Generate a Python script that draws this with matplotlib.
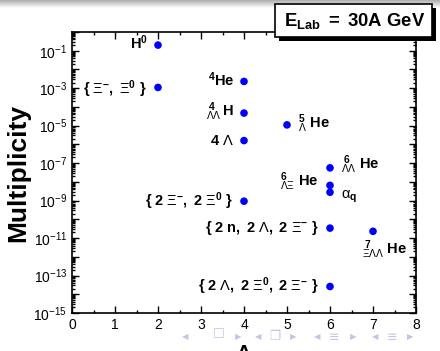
import numpy as np
import matplotlib
matplotlib.use("Agg")
import matplotlib.pyplot as plt
from matplotlib.patches import Rectangle
from matplotlib.ticker import LogLocator, FuncFormatter, MultipleLocator

plt.rcParams['font.family'] = ['Liberation Sans', 'DejaVu Sans']
plt.rcParams['mathtext.fontset'] = 'custom'
plt.rcParams['mathtext.rm'] = 'Liberation Sans:bold'
plt.rcParams['mathtext.bf'] = 'Liberation Sans:bold'
plt.rcParams['mathtext.sf'] = 'Liberation Sans'
plt.rcParams['mathtext.it'] = 'Liberation Sans:italic'

# data: mass number A vs multiplicity
A_vals = [2, 2, 4, 4, 4, 5, 6, 6, 6, 4, 6, 7, 6]
mult = [2.0e-1, 1.1e-3, 2.3e-3, 4.7e-5, 1.6e-6, 1.1e-5, 5.6e-8, 6.5e-9, 2.8e-9,
        9.3e-10, 3.4e-11, 2.3e-11, 2.6e-14]
labels = [r'$\mathrm{H}^{0}$',
          r'$\{\ \mathsf{Ξ}^{-},\ \mathsf{Ξ}^{0}\ \}$',
          r'$^{4}\mathrm{He}$',
          r'${}^{\ 4}_{\mathsf{ΛΛ}}\,\mathrm{H}$',
          r'$4\ \mathsf{Λ}$',
          r'${}^{5}_{\mathsf{Λ}}\ \mathrm{He}$',
          r'${}^{\ 6}_{\mathsf{ΛΛ}}\ \mathrm{He}$',
          r'${}^{6}_{\mathsf{ΛΞ}}\ \mathrm{He}$',
          r'$\mathsf{α}_{\mathrm{q}}$',
          r'$\{\ 2\ \mathsf{Ξ}^{-},\ 2\ \mathsf{Ξ}^{0}\ \}$',
          r'$\{\ 2\ \mathrm{n},\ 2\ \mathsf{Λ},\ 2\ \mathsf{Ξ}^{-}\ \}$',
          r'${}^{\ 7}_{\mathsf{ΞΛΛ}}\ \mathrm{He}$',
          r'$\{\ 2\ \mathsf{Λ},\ 2\ \mathsf{Ξ}^{0},\ 2\ \mathsf{Ξ}^{-}\ \}$']
# label placement (offset in points, alignment)
offsets = [(-7, 2), (-8, -1), (-7, 1), (-7, 1), (-7, 0), (8, 1), (8, 2), (-8, 3), (8, -3),
           (-8, 0), (-8, 0), (-8, -13), (-8, 0)]
has = ['right', 'right', 'right', 'right', 'right', 'left', 'left', 'right', 'left',
       'right', 'right', 'left', 'right']

fig = plt.figure(figsize=(4.4, 3.51), dpi=100)

# top gradient bar (slide frame)
gax = fig.add_axes([0, 1 - 8 / 351, 1, 8 / 351])
grad = np.linspace(0.68, 1.0, 50).reshape(-1, 1)
gax.imshow(np.dstack([grad, grad, grad]), aspect='auto', extent=[0, 1, 0, 1])
gax.axis('off')

ax = fig.add_axes([72 / 440, 1 - 313 / 351, 344 / 440, 281 / 351])
ax.set_yscale('log')
ax.scatter(A_vals, mult, s=30, color='#0000ff', zorder=3, edgecolors='none')
for x, y, lab, off, ha in zip(A_vals, mult, labels, offsets, has):
    ax.annotate(lab, (x, y), xytext=off, textcoords='offset points', ha=ha, va='center',
                fontsize=10.5, color='black')

ax.set_xlim(0, 8)
ax.set_ylim(1e-15, 1e0)
ax.xaxis.set_major_locator(MultipleLocator(1))
ax.xaxis.set_minor_locator(MultipleLocator(0.5))
ax.yaxis.set_major_locator(LogLocator(base=10, numticks=30))
ax.yaxis.set_minor_locator(LogLocator(base=10, subs=np.arange(2, 10), numticks=30))

def yfmt(v, pos):
    e = int(round(np.log10(v)))
    if e % 2 == 0:
        return ''
    return r'$\mathdefault{10^{%d}}$' % e

ax.yaxis.set_major_formatter(FuncFormatter(yfmt))
ax.tick_params(which='both', direction='in', top=True, right=True, labelsize=10, width=1)
ax.tick_params(which='major', length=5)
ax.tick_params(which='minor', length=2.5)
for sp in ax.spines.values():
    sp.set_linewidth(1.2)

ax.set_ylabel('Multiplicity', fontsize=19, fontweight='bold', labelpad=2)
ax.text(0.5, -0.115, 'A', transform=ax.transAxes, ha='center', va='top',
        fontsize=14, fontweight='bold')

# title box with shadow
fig.patches.append(Rectangle((279 / 440, 1 - 41 / 351), 157 / 440, 33 / 351,
                             transform=fig.transFigure, facecolor='black', edgecolor='none',
                             zorder=5))
fig.patches.append(Rectangle((275 / 440, 1 - 37 / 351), 157 / 440, 33 / 351,
                             transform=fig.transFigure, facecolor='white', edgecolor='black',
                             linewidth=1.2, zorder=6))
fig.text(355 / 440, 1 - 21 / 351, r'$\mathrm{E}_{\mathrm{Lab}}\ =\ \mathrm{30A\ GeV}$',
         ha='center', va='center', fontsize=13.3, zorder=7)

# beamer navigation symbols
nav_syms = ['◀', '□', '▶', '◀', '❐', '▶', '◀', '≡', '▶', '◀', '≡', '▶']
nav_x = [185, 219, 238, 258, 275, 293, 317, 334, 353, 375, 392, 410]
nav_dy = {'□': -5, '❐': -1, '≡': 1}
for sx, sym in zip(nav_x, nav_syms):
    fs = 6 if sym in ('◀', '▶') else 9
    fig.text(sx / 440, 1 - (337 + nav_dy.get(sym, 0)) / 351, sym, ha='center',
             va='center', fontsize=fs, color='#c4c4e4', family=['DejaVu Sans'])

fig.savefig('out.png', dpi=100)
